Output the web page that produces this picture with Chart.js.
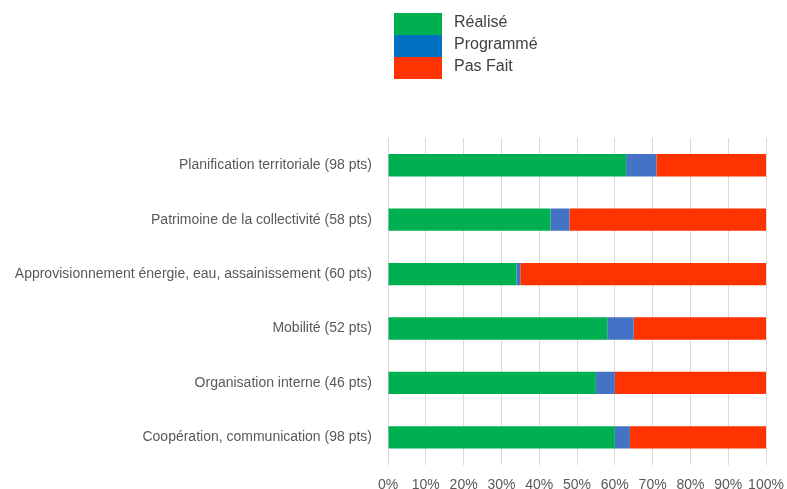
<!DOCTYPE html>
<html lang="fr">
<head>
<meta charset="utf-8">
<script src="https://cdn.jsdelivr.net/npm/chart.js@4"></script>
<style>
    html, body { margin: 0; padding: 0; background: #fff; }
    #wrap { position: relative; width: 787px; height: 489px; }
    #legend { position: absolute; left: 394px; top: 13px; font: 16px "Liberation Sans", Arial, sans-serif; color: #404040; }
    .legendRow { display: flex; align-items: center; height: 22px; }
    .legendBox { width: 48px; height: 22px; margin-right: 12px; }
    .legendText { position: relative; top: -2px; }
</style>
</head>
<body>
<div id="wrap">
    <canvas id="myChart" width="787" height="489"></canvas>
    <div id="legend"></div>
</div>
<script>
const categories = [
    'Planification territoriale (98 pts)',
    'Patrimoine de la collectivité (58 pts)',
    'Approvisionnement énergie, eau, assainissement (60 pts)',
    'Mobilité (52 pts)',
    'Organisation interne (46 pts)',
    'Coopération, communication (98 pts)'
];
const realise = [63, 43, 34, 58, 55, 60];
const programme = [8, 5, 1, 7, 5, 4];
const pasFait = [29, 52, 65, 35, 40, 36];
const xTicks = [0, 10, 20, 30, 40, 50, 60, 70, 80, 90, 100];

const seriesNames = ['Réalisé', 'Programmé', 'Pas Fait'];
const barColors = ['#00B050', '#4472C4', '#FF3300'];
const legendColors = ['#00B050', '#0070C0', '#FF3300'];

class StackLegend {
    constructor(element, names, colors) {
        this.element = document.querySelector(element);
        names.forEach((name, i) => {
            const row = document.createElement('div');
            row.className = 'legendRow';
            const box = document.createElement('div');
            box.className = 'legendBox';
            box.style.background = colors[i];
            const text = document.createElement('span');
            text.className = 'legendText';
            text.textContent = name;
            row.appendChild(box);
            row.appendChild(text);
            this.element.appendChild(row);
        });
    }
}

document.addEventListener('DOMContentLoaded', function () {
    new StackLegend('#legend', seriesNames, legendColors);

    const ctx = document.getElementById('myChart');
    const values = [realise, programme, pasFait];

    new Chart(ctx, {
        type: 'bar',
        data: {
            labels: categories,
            datasets: seriesNames.map((name, i) => ({
                label: name,
                data: values[i],
                backgroundColor: barColors[i],
                borderWidth: 0,
                categoryPercentage: 0.5,
                barPercentage: 0.82
            }))
        },
        options: {
            indexAxis: 'y',
            responsive: false,
            animation: false,
            layout: {
                padding: { top: 138, right: 21, bottom: -17, left: 0 }
            },
            plugins: {
                legend: { display: false },
                tooltip: { enabled: false }
            },
            scales: {
                x: {
                    stacked: true,
                    min: 0,
                    max: 100,
                    afterBuildTicks: (scale) => {
                        scale.ticks = xTicks.map(v => ({ value: v }));
                    },
                    afterFit: (scale) => {
                        // the right margin comes from the layout padding only
                        scale.paddingLeft = 0;
                        scale.paddingRight = 0;
                    },
                    border: { display: false },
                    grid: { color: '#d9d9d9', drawTicks: false },
                    ticks: {
                        padding: 12,
                        autoSkip: false,
                        minRotation: 0,
                        maxRotation: 0,
                        color: '#595959',
                        font: { family: '"Liberation Sans", Arial, sans-serif', size: 14 },
                        callback: (v) => v + '%'
                    }
                },
                y: {
                    stacked: true,
                    afterFit: (scale) => { scale.width = 388; },
                    border: { display: false },
                    grid: { display: false, drawTicks: false },
                    ticks: {
                        padding: 16,
                        color: '#595959',
                        font: { family: '"Liberation Sans", Arial, sans-serif', size: 14 }
                    }
                }
            }
        }
    });
});
</script>
</body>
</html>
